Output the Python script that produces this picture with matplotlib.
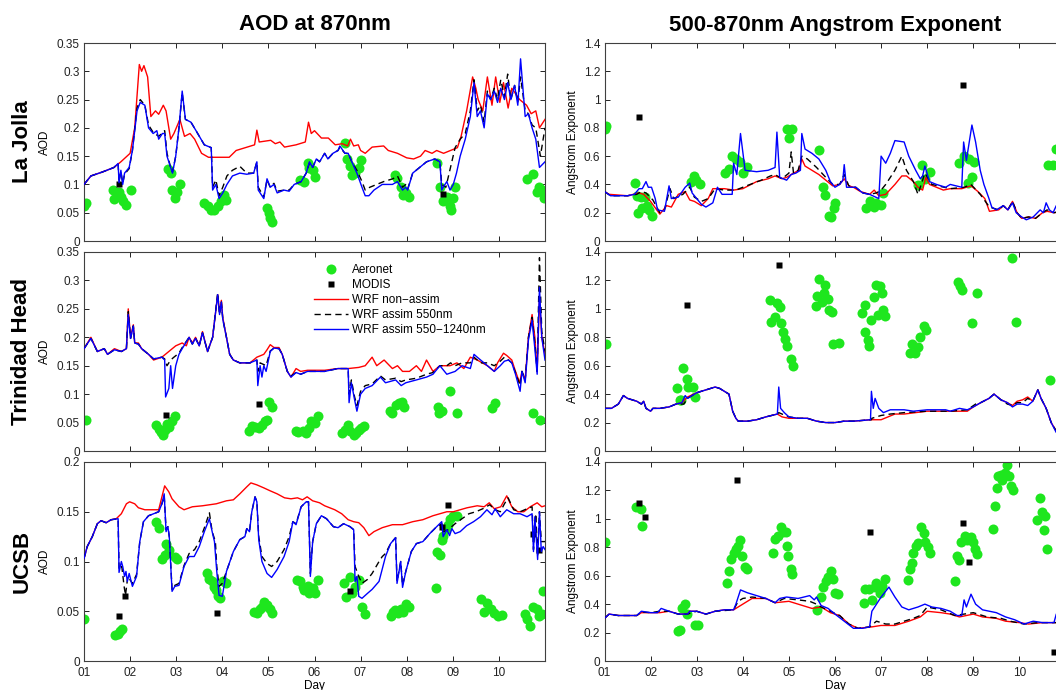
import numpy as np
import matplotlib.pyplot as plt
from matplotlib.lines import Line2D

plt.rcParams['font.family'] = ['Liberation Sans', 'DejaVu Sans']

# ---- data (day of month, value) ----
SITES = ['La Jolla', 'Trinidad Head', 'UCSB']
DAY_TICKS = list(range(1, 11))
DAY_LABELS = ['%02d' % d for d in DAY_TICKS]

# La Jolla AOD
LJ_AOD_RED = [(1.0,.100),(1.15,.115),(1.4,.122),(1.65,.130),(1.8,.140),(2.0,.155),(2.1,.200),(2.2,.312),(2.25,.300),(2.3,.310),(2.38,.290),(2.45,.220),(2.55,.230),(2.62,.224),(2.72,.240),(2.78,.230),(2.88,.180),(2.95,.190),(3.08,.215),(3.18,.185),(3.3,.190),(3.4,.180),(3.55,.155),(3.7,.148),(4.15,.148),(4.3,.160),(4.5,.165),(4.7,.170),(4.75,.196),(4.8,.175),(5.05,.178),(5.15,.172),(5.25,.175),(5.35,.166),(5.6,.170),(5.8,.175),(5.87,.210),(5.93,.190),(6.0,.195),(6.15,.182),(6.3,.182),(6.45,.170),(6.6,.172),(6.72,.168),(6.78,.180),(6.85,.168),(6.95,.170),(7.0,.160),(7.1,.155),(7.25,.166),(7.5,.168),(7.6,.160),(7.8,.155),(8.0,.147),(8.15,.145),(8.3,.150),(8.4,.160),(8.55,.155),(8.65,.160),(8.8,.155),(8.95,.160),(9.1,.165),(9.18,.185),(9.3,.230),(9.43,.290),(9.5,.270),(9.55,.250),(9.65,.230),(9.75,.290),(9.85,.240),(9.93,.290),(10.02,.245),(10.1,.280),(10.2,.235),(10.28,.270),(10.45,.250),(10.6,.240),(10.7,.225),(10.8,.230),(10.88,.200),(11.0,.215)]
LJ_AOD_BLUE = [(1.0,.100),(1.15,.115),(1.4,.122),(1.65,.130),(1.74,.137),(1.76,.103),(1.8,.125),(1.84,.100),(1.88,.120),(1.98,.130),(2.05,.160),(2.15,.230),(2.22,.245),(2.32,.240),(2.4,.200),(2.5,.190),(2.58,.195),(2.62,.180),(2.7,.190),(2.75,.190),(2.8,.150),(2.88,.130),(2.92,.120),(2.99,.150),(3.06,.200),(3.13,.265),(3.2,.215),(3.32,.210),(3.43,.195),(3.61,.170),(3.76,.165),(3.79,.090),(3.86,.100),(3.93,.075),(4.01,.085),(4.1,.100),(4.22,.115),(4.38,.120),(4.53,.118),(4.68,.120),(4.75,.140),(4.78,.090),(4.9,.075),(4.97,.110),(5.04,.095),(5.12,.100),(5.19,.085),(5.34,.090),(5.45,.088),(5.56,.100),(5.71,.105),(5.82,.120),(5.89,.140),(5.96,.130),(6.04,.145),(6.11,.140),(6.22,.155),(6.29,.145),(6.4,.155),(6.51,.160),(6.55,.168),(6.66,.155),(6.73,.155),(6.81,.140),(6.92,.120),(7.03,.095),(7.1,.080),(7.18,.080),(7.29,.090),(7.47,.100),(7.69,.100),(7.8,.105),(7.91,.090),(7.98,.095),(8.02,.090),(8.13,.120),(8.28,.130),(8.43,.140),(8.61,.145),(8.72,.140),(8.76,.090),(8.79,.095),(8.87,.105),(8.94,.090),(9.01,.100),(9.08,.120),(9.16,.150),(9.27,.180),(9.38,.220),(9.46,.280),(9.53,.220),(9.6,.230),(9.68,.200),(9.75,.260),(9.82,.250),(9.9,.265),(9.97,.245),(10.04,.270),(10.12,.250),(10.19,.280),(10.26,.250),(10.34,.275),(10.41,.240),(10.47,.322),(10.57,.220),(10.64,.225),(10.72,.200),(10.8,.180),(10.88,.130),(11.0,.140)]
LJ_AOD_DASH = [(1.0,.100),(1.15,.115),(1.4,.122),(1.65,.130),(1.74,.137),(1.76,.105),(1.8,.123),(1.84,.102),(1.88,.118),(1.98,.128),(2.05,.160),(2.15,.235),(2.22,.250),(2.32,.240),(2.4,.205),(2.5,.192),(2.62,.185),(2.75,.195),(2.8,.155),(2.88,.130),(2.92,.122),(2.99,.150),(3.06,.200),(3.13,.262),(3.2,.215),(3.32,.210),(3.43,.195),(3.61,.170),(3.76,.165),(3.79,.095),(3.86,.108),(3.93,.080),(4.01,.095),(4.1,.115),(4.22,.125),(4.38,.132),(4.53,.120),(4.68,.120),(4.75,.140),(4.78,.095),(4.9,.078),(4.97,.108),(5.04,.095),(5.12,.102),(5.19,.088),(5.34,.090),(5.45,.090),(5.56,.100),(5.71,.105),(5.82,.120),(5.89,.138),(5.96,.130),(6.04,.145),(6.11,.140),(6.22,.155),(6.29,.145),(6.4,.155),(6.51,.160),(6.55,.166),(6.66,.155),(6.73,.155),(6.81,.140),(6.92,.125),(7.03,.105),(7.1,.090),(7.2,.095),(7.35,.100),(7.5,.105),(7.7,.110),(7.8,.115),(7.91,.095),(7.98,.100),(8.02,.092),(8.13,.120),(8.28,.130),(8.43,.140),(8.61,.145),(8.72,.140),(8.76,.100),(8.85,.095),(8.95,.130),(9.05,.165),(9.16,.180),(9.27,.190),(9.38,.230),(9.46,.285),(9.53,.230),(9.6,.240),(9.68,.210),(9.75,.265),(9.82,.250),(9.9,.270),(9.97,.250),(10.04,.285),(10.12,.255),(10.19,.295),(10.26,.250),(10.34,.275),(10.41,.245),(10.47,.290),(10.57,.230),(10.64,.225),(10.72,.205),(10.8,.200),(10.9,.150),(11.0,.200)]
LJ_AOD_AERONET = [(1.0,.061),(1.04,.067),(1.63,.091),(1.66,.074),(1.77,.086),(1.81,.078),(1.85,.070),(1.92,.064),(2.01,.090),(2.82,.127),(2.88,.120),(2.91,.090),(2.97,.076),(3.02,.087),(3.08,.100),(3.61,.067),(3.68,.061),(3.76,.055),(3.83,.054),(3.9,.061),(3.98,.070),(4.03,.081),(4.07,.073),(4.96,.058),(5.01,.049),(5.04,.040),(5.08,.034),(5.68,.108),(5.78,.105),(5.85,.137),(5.89,.129),(5.96,.126),(6.0,.114),(6.66,.174),(6.7,.145),(6.76,.132),(6.81,.117),(6.87,.120),(6.96,.129),(7.01,.143),(7.75,.117),(7.8,.111),(7.87,.096),(7.91,.081),(7.98,.084),(8.04,.077),(8.65,.137),(8.72,.096),(8.79,.070),(8.87,.078),(8.94,.061),(8.96,.055),(9.01,.076),(9.04,.096),(10.62,.110),(10.75,.119),(10.83,.087),(10.88,.096),(10.93,.090),(10.97,.076)]
LJ_AOD_MODIS = [(1.75,.100),(8.78,.083)]

# La Jolla Angstrom exponent
LJ_ANG_RED = [(1.0,.35),(1.1,.33),(1.5,.32),(1.75,.34),(1.85,.33),(2.0,.28),(2.2,.19),(2.35,.25),(2.45,.24),(2.6,.33),(2.75,.35),(2.85,.29),(2.95,.28),(3.1,.25),(3.25,.30),(3.35,.37),(3.6,.37),(3.8,.36),(4.0,.37),(4.3,.42),(4.55,.44),(4.7,.46),(4.85,.44),(4.95,.45),(5.1,.48),(5.22,.50),(5.28,.58),(5.35,.53),(5.5,.50),(5.65,.47),(5.8,.43),(5.95,.39),(6.1,.40),(6.2,.44),(6.3,.39),(6.4,.38),(6.55,.35),(6.75,.33),(6.85,.36),(6.95,.32),(7.1,.33),(7.3,.40),(7.45,.46),(7.55,.46),(7.7,.42),(7.8,.38),(7.9,.36),(7.97,.45),(8.05,.40),(8.2,.38),(8.35,.36),(8.5,.37),(8.75,.37),(8.95,.39),(9.1,.35),(9.25,.30),(9.35,.21),(9.55,.22),(9.65,.25),(9.75,.22),(9.85,.28),(9.95,.20),(10.05,.16),(10.2,.17),(10.35,.16),(10.5,.20),(10.6,.21),(10.75,.20),(11.0,.21)]
LJ_ANG_BLUE = [(1.0,.35),(1.13,.32),(1.5,.32),(1.65,.33),(1.75,.37),(1.82,.37),(1.9,.42),(1.95,.38),(2.02,.38),(2.1,.30),(2.15,.22),(2.3,.21),(2.4,.39),(2.45,.30),(2.6,.31),(2.75,.38),(2.85,.41),(2.9,.34),(3.0,.30),(3.1,.26),(3.2,.24),(3.35,.27),(3.45,.38),(3.55,.33),(3.77,.33),(3.8,.55),(3.87,.47),(3.95,.76),(4.05,.50),(4.3,.49),(4.55,.50),(4.7,.52),(4.74,.77),(4.8,.45),(4.95,.43),(5.05,.47),(5.15,.48),(5.25,.50),(5.28,.76),(5.35,.65),(5.5,.62),(5.65,.58),(5.8,.50),(5.9,.42),(6.0,.38),(6.1,.40),(6.17,.43),(6.2,.54),(6.25,.38),(6.45,.38),(6.6,.34),(6.75,.33),(6.95,.30),(7.0,.60),(7.1,.55),(7.2,.62),(7.3,.71),(7.5,.70),(7.6,.60),(7.75,.50),(7.85,.44),(7.9,.46),(7.95,.53),(8.05,.42),(8.2,.40),(8.4,.38),(8.5,.40),(8.75,.38),(8.79,.70),(8.85,.57),(8.97,.82),(9.05,.70),(9.15,.50),(9.23,.40),(9.34,.30),(9.4,.24),(9.5,.22),(9.65,.25),(9.75,.22),(9.85,.27),(9.93,.20),(10.05,.17),(10.15,.15),(10.3,.17),(10.45,.22),(10.52,.20),(10.58,.27),(10.65,.22),(10.73,.20),(10.8,.25),(11.0,.27)]
LJ_ANG_DASH = [(1.0,.35),(1.13,.32),(1.5,.32),(1.7,.33),(1.8,.35),(1.9,.34),(2.05,.29),(2.2,.20),(2.3,.22),(2.42,.37),(2.5,.30),(2.7,.33),(2.85,.38),(2.95,.31),(3.1,.28),(3.25,.30),(3.4,.37),(3.6,.36),(3.85,.36),(4.0,.38),(4.4,.43),(4.6,.46),(4.7,.47),(4.85,.44),(5.0,.48),(5.05,.63),(5.1,.48),(5.2,.50),(5.28,.60),(5.4,.58),(5.6,.52),(5.8,.45),(5.95,.40),(6.1,.40),(6.2,.47),(6.3,.39),(6.45,.38),(6.6,.34),(6.75,.33),(6.9,.34),(7.0,.36),(7.1,.40),(7.3,.50),(7.45,.60),(7.55,.50),(7.7,.42),(7.8,.33),(7.95,.48),(8.1,.40),(8.5,.37),(8.8,.38),(8.95,.40),(9.15,.33),(9.35,.24),(9.55,.22),(9.65,.25),(9.75,.22),(9.85,.28),(9.95,.20),(10.05,.16),(10.2,.17),(10.35,.16),(10.5,.20),(10.6,.22),(10.75,.20),(11.0,.22)]
LJ_ANG_AERONET = [(1.0,.795),(1.04,.81),(1.66,.41),(1.7,.32),(1.79,.31),(1.88,.31),(1.73,.195),(1.82,.23),(1.93,.25),(1.97,.22),(2.03,.18),(2.88,.42),(2.94,.46),(2.99,.43),(3.07,.40),(3.61,.48),(3.69,.51),(3.76,.60),(3.85,.58),(3.94,.56),(4.01,.48),(4.09,.525),(4.96,.795),(5.07,.79),(5.01,.73),(5.66,.64),(5.74,.38),(5.79,.325),(5.88,.18),(5.91,.17),(5.97,.23),(6.01,.27),(6.68,.235),(6.77,.28),(6.84,.24),(6.9,.27),(6.99,.254),(7.05,.34),(7.81,.395),(7.88,.54),(7.96,.44),(8.07,.49),(8.69,.55),(8.8,.60),(8.9,.58),(9.01,.56),(8.88,.41),(8.97,.45),(10.62,.54),(10.73,.54),(10.8,.65)]
LJ_ANG_MODIS = [(1.75,.88),(8.78,1.10)]

# Trinidad Head AOD
TH_AOD_RED = [(1.0,.180),(1.15,.200),(1.29,.175),(1.44,.180),(1.51,.170),(1.66,.180),(1.81,.175),(1.92,.180),(1.96,.250),(2.01,.200),(2.07,.222),(2.1,.190),(2.18,.190),(2.25,.180),(2.4,.170),(2.51,.160),(2.69,.165),(2.84,.175),(2.99,.185),(3.13,.190),(3.22,.185),(3.28,.200),(3.35,.190),(3.42,.200),(3.5,.185),(3.57,.210),(3.68,.175),(3.79,.200),(3.9,.275),(3.94,.245),(3.98,.265),(4.01,.235),(4.09,.200),(4.16,.170),(4.24,.160),(4.38,.155),(4.6,.155),(4.75,.165),(4.9,.170),(4.97,.178),(5.04,.187),(5.12,.182),(5.23,.182),(5.3,.170),(5.41,.140),(5.49,.130),(5.6,.145),(5.7,.140),(5.85,.142),(6.22,.142),(6.51,.145),(6.73,.145),(6.96,.147),(7.1,.150),(7.25,.165),(7.35,.150),(7.51,.160),(7.69,.145),(7.8,.150),(7.91,.140),(8.06,.140),(8.21,.150),(8.32,.140),(8.43,.160),(8.57,.140),(8.72,.150),(8.94,.150),(9.09,.155),(9.24,.145),(9.38,.165),(9.53,.160),(9.75,.150),(9.9,.140),(9.97,.155),(10.1,.172),(10.17,.168),(10.28,.160),(10.36,.140),(10.45,.120),(10.5,.140),(10.57,.125),(10.64,.200),(10.72,.240),(10.78,.200),(10.83,.140),(10.88,.270),(10.93,.200),(11.0,.170)]
TH_AOD_BLUE = [(1.0,.180),(1.15,.198),(1.29,.175),(1.44,.180),(1.51,.170),(1.66,.178),(1.81,.175),(1.92,.180),(1.96,.240),(2.01,.198),(2.07,.220),(2.1,.190),(2.18,.188),(2.25,.180),(2.4,.170),(2.51,.162),(2.69,.165),(2.75,.160),(2.77,.095),(2.84,.110),(2.88,.150),(2.92,.110),(2.99,.150),(3.06,.170),(3.13,.180),(3.28,.200),(3.35,.188),(3.42,.198),(3.5,.185),(3.57,.208),(3.68,.175),(3.79,.200),(3.9,.275),(3.94,.240),(3.98,.262),(4.01,.232),(4.09,.200),(4.16,.170),(4.24,.160),(4.38,.155),(4.6,.155),(4.75,.160),(4.77,.115),(4.82,.150),(4.86,.130),(4.9,.150),(4.95,.140),(5.04,.175),(5.12,.181),(5.23,.180),(5.3,.170),(5.41,.140),(5.49,.130),(5.6,.138),(5.7,.135),(5.85,.140),(6.22,.140),(6.51,.145),(6.73,.145),(6.75,.085),(6.8,.120),(6.87,.090),(6.92,.070),(7.0,.100),(7.1,.110),(7.25,.115),(7.43,.130),(7.54,.120),(7.76,.125),(7.88,.115),(7.98,.120),(8.21,.125),(8.43,.130),(8.57,.135),(8.72,.150),(8.87,.135),(9.05,.140),(9.2,.150),(9.38,.145),(9.46,.170),(9.53,.165),(9.75,.150),(9.9,.140),(10.03,.150),(10.12,.158),(10.21,.160),(10.28,.155),(10.36,.135),(10.46,.105),(10.5,.140),(10.57,.120),(10.64,.195),(10.72,.230),(10.78,.180),(10.83,.135),(10.88,.288),(10.93,.200),(11.0,.160)]
TH_AOD_DASH = [(1.0,.180),(1.15,.198),(1.29,.175),(1.44,.180),(1.51,.170),(1.66,.178),(1.81,.175),(1.92,.180),(1.96,.245),(2.01,.198),(2.07,.220),(2.1,.190),(2.18,.188),(2.25,.180),(2.4,.170),(2.51,.162),(2.69,.165),(2.75,.162),(2.8,.150),(2.88,.160),(2.95,.165),(3.06,.172),(3.13,.182),(3.28,.200),(3.35,.188),(3.42,.198),(3.5,.185),(3.57,.208),(3.68,.175),(3.79,.200),(3.9,.278),(3.94,.240),(3.98,.262),(4.01,.232),(4.09,.200),(4.16,.170),(4.24,.160),(4.38,.155),(4.6,.155),(4.75,.160),(4.77,.140),(4.82,.155),(4.9,.152),(4.95,.150),(5.04,.176),(5.12,.181),(5.23,.180),(5.3,.170),(5.41,.140),(5.49,.132),(5.6,.138),(5.7,.135),(5.85,.140),(6.22,.140),(6.51,.145),(6.73,.145),(6.75,.100),(6.8,.125),(6.87,.095),(6.92,.080),(7.0,.105),(7.1,.115),(7.25,.118),(7.43,.132),(7.54,.125),(7.76,.128),(7.88,.122),(7.98,.125),(8.21,.128),(8.43,.135),(8.57,.138),(8.72,.150),(8.87,.150),(8.95,.155),(9.05,.150),(9.2,.155),(9.38,.155),(9.46,.165),(9.6,.155),(9.75,.155),(9.9,.150),(10.03,.158),(10.12,.165),(10.21,.160),(10.28,.155),(10.36,.138),(10.46,.115),(10.5,.140),(10.57,.125),(10.64,.200),(10.72,.235),(10.78,.190),(10.83,.140),(10.88,.340),(10.93,.210),(11.0,.175)]
TH_AOD_AERONET = [(1.04,.054),(2.57,.045),(2.62,.038),(2.68,.034),(2.71,.028),(2.76,.037),(2.8,.048),(2.84,.043),(2.91,.052),(2.97,.061),(4.58,.036),(4.64,.044),(4.71,.043),(4.79,.040),(4.86,.046),(4.93,.052),(4.97,.055),(5.02,.087),(5.08,.078),(5.6,.036),(5.65,.034),(5.74,.036),(5.82,.032),(5.87,.040),(5.93,.052),(6.0,.049),(6.07,.062),(6.59,.032),(6.66,.037),(6.72,.046),(6.77,.035),(6.85,.028),(6.9,.031),(6.96,.037),(7.01,.040),(7.07,.044),(7.64,.071),(7.69,.067),(7.76,.081),(7.84,.084),(7.9,.086),(7.95,.077),(8.68,.078),(8.71,.067),(8.76,.070),(8.94,.105),(9.09,.067),(9.85,.076),(9.91,.084),(10.74,.067),(10.9,.054)]
TH_AOD_MODIS = [(2.78,.064),(4.79,.083)]

# Trinidad Head Angstrom exponent
TH_ANG_RED = [(1.0,.30),(1.15,.30),(1.3,.33),(1.41,.39),(1.5,.37),(1.7,.35),(1.8,.33),(1.85,.35),(1.9,.30),(2.0,.28),(2.05,.30),(2.2,.30),(2.4,.31),(2.55,.33),(2.68,.34),(2.8,.38),(3.0,.41),(3.2,.43),(3.4,.45),(3.5,.44),(3.6,.42),(3.7,.40),(3.78,.28),(3.85,.23),(3.9,.21),(4.1,.21),(4.3,.22),(4.5,.24),(4.75,.26),(4.85,.24),(5.0,.23),(5.2,.23),(5.4,.23),(5.6,.21),(5.8,.20),(6.0,.20),(6.2,.21),(6.4,.21),(6.79,.22),(7.0,.22),(7.3,.26),(7.5,.26),(8.0,.28),(8.5,.28),(8.87,.28),(9.0,.31),(9.16,.34),(9.34,.37),(9.45,.40),(9.6,.36),(9.74,.34),(9.85,.32),(9.95,.35),(10.07,.36),(10.18,.38),(10.29,.35),(10.4,.43),(10.47,.37),(10.58,.30),(10.69,.20),(10.8,.14),(11.0,.14)]
TH_ANG_BLUE = [(1.0,.30),(1.15,.30),(1.3,.33),(1.41,.39),(1.5,.37),(1.7,.35),(1.8,.33),(1.85,.35),(1.9,.30),(2.0,.28),(2.05,.30),(2.2,.30),(2.4,.31),(2.55,.33),(2.68,.34),(2.75,.39),(2.8,.37),(3.0,.41),(3.2,.43),(3.4,.45),(3.5,.44),(3.6,.42),(3.7,.40),(3.78,.28),(3.85,.23),(3.9,.21),(4.1,.21),(4.3,.22),(4.5,.24),(4.75,.26),(4.78,.45),(4.82,.30),(4.9,.27),(5.0,.24),(5.2,.23),(5.4,.23),(5.6,.21),(5.8,.20),(6.0,.20),(6.2,.21),(6.4,.21),(6.77,.22),(6.79,.42),(6.83,.30),(6.87,.37),(6.95,.30),(7.05,.27),(7.2,.29),(7.5,.29),(7.7,.28),(8.0,.29),(8.4,.29),(8.5,.28),(8.7,.30),(8.87,.29),(9.0,.31),(9.16,.34),(9.34,.37),(9.45,.40),(9.6,.36),(9.74,.34),(9.85,.31),(9.95,.33),(10.07,.33),(10.18,.32),(10.29,.35),(10.4,.43),(10.47,.37),(10.58,.30),(10.69,.20),(10.8,.13),(11.0,.13)]
TH_ANG_DASH = [(1.0,.30),(1.15,.30),(1.3,.33),(1.41,.39),(1.5,.37),(1.7,.35),(1.8,.33),(1.85,.35),(1.9,.30),(2.0,.28),(2.05,.30),(2.2,.30),(2.4,.31),(2.55,.33),(2.72,.33),(2.8,.37),(3.0,.41),(3.2,.43),(3.4,.45),(3.5,.44),(3.6,.42),(3.7,.40),(3.78,.28),(3.85,.23),(3.9,.21),(4.1,.21),(4.3,.22),(4.5,.24),(4.75,.26),(4.78,.27),(4.85,.26),(5.0,.24),(5.2,.23),(5.4,.23),(5.6,.21),(5.8,.20),(6.0,.20),(6.2,.21),(6.4,.21),(6.79,.22),(6.8,.23),(7.0,.25),(7.2,.26),(7.5,.27),(8.0,.28),(8.5,.28),(8.87,.29),(9.05,.33),(9.16,.34),(9.34,.37),(9.45,.40),(9.6,.36),(9.74,.33),(9.85,.32),(9.95,.34),(10.07,.34),(10.18,.37),(10.29,.35),(10.4,.43),(10.47,.37),(10.58,.30),(10.69,.20),(10.8,.14),(11.0,.14)]
TH_ANG_AERONET = [(1.04,.75),(2.57,.44),(2.63,.36),(2.66,.36),(2.7,.585),(2.79,.505),(2.82,.45),(2.92,.45),(2.96,.38),(4.58,1.06),(4.62,.91),(4.69,.94),(4.74,1.04),(4.8,1.01),(4.83,.90),(4.87,.84),(4.91,.79),(4.96,.74),(5.04,.65),(5.09,.60),(5.58,1.02),(5.66,1.21),(5.62,1.09),(5.71,1.05),(5.77,1.11),(5.79,1.17),(5.84,1.07),(5.88,.99),(5.93,.98),(5.96,.75),(6.08,.76),(6.59,.97),(6.64,1.03),(6.66,.84),(6.72,.78),(6.74,.74),(6.79,.92),(6.84,1.08),(6.88,1.17),(6.93,.96),(6.97,1.16),(7.01,1.11),(7.04,.99),(7.08,.95),(7.63,.69),(7.67,.75),(7.74,.69),(7.81,.73),(7.85,.80),(7.92,.88),(7.98,.85),(8.67,1.19),(8.71,1.16),(8.76,1.13),(8.98,.90),(9.09,1.11),(9.84,1.36),(9.93,.91),(10.66,.50)]
TH_ANG_MODIS = [(2.79,1.03),(4.78,1.31)]

# UCSB AOD
UC_AOD_RED = [(1.0,.103),(1.07,.115),(1.18,.125),(1.29,.138),(1.37,.141),(1.48,.139),(1.59,.142),(1.7,.143),(1.81,.148),(1.92,.158),(1.99,.160),(2.1,.158),(2.18,.154),(2.32,.152),(2.62,.152),(2.69,.165),(2.75,.176),(2.84,.170),(2.91,.163),(3.06,.155),(3.17,.152),(3.35,.155),(3.57,.156),(3.87,.158),(4.09,.161),(4.24,.162),(4.38,.168),(4.53,.175),(4.62,.179),(4.75,.177),(4.9,.174),(5.04,.171),(5.19,.168),(5.35,.164),(5.49,.163),(5.63,.164),(5.74,.162),(5.84,.165),(5.96,.161),(6.11,.159),(6.22,.156),(6.44,.152),(6.59,.148),(6.73,.142),(6.85,.140),(6.96,.139),(7.07,.134),(7.18,.126),(7.29,.130),(7.47,.134),(7.69,.137),(7.91,.137),(8.13,.140),(8.35,.142),(8.57,.146),(8.72,.148),(8.87,.150),(9.01,.150),(9.16,.152),(9.31,.154),(9.53,.156),(9.68,.155),(9.79,.159),(9.9,.153),(10.04,.155),(10.17,.166),(10.28,.155),(10.41,.150),(10.54,.150),(10.68,.155),(10.83,.159),(10.93,.155),(11.0,.156)]
UC_AOD_BLUE = [(1.0,.103),(1.07,.115),(1.18,.125),(1.29,.138),(1.37,.141),(1.48,.139),(1.59,.142),(1.74,.143),(1.76,.089),(1.81,.100),(1.84,.095),(1.88,.085),(1.91,.090),(1.94,.080),(1.98,.088),(2.05,.075),(2.14,.085),(2.21,.120),(2.29,.140),(2.4,.146),(2.51,.148),(2.62,.150),(2.69,.158),(2.74,.168),(2.78,.130),(2.82,.135),(2.85,.125),(2.91,.070),(2.97,.075),(3.06,.076),(3.17,.095),(3.28,.105),(3.39,.105),(3.5,.115),(3.61,.130),(3.72,.143),(3.78,.130),(3.83,.120),(3.88,.090),(3.93,.066),(4.0,.065),(4.09,.090),(4.24,.110),(4.38,.122),(4.49,.125),(4.53,.133),(4.59,.130),(4.64,.150),(4.71,.165),(4.75,.160),(4.79,.122),(4.86,.100),(4.97,.088),(5.07,.084),(5.19,.092),(5.34,.105),(5.45,.120),(5.53,.140),(5.6,.137),(5.71,.155),(5.82,.160),(5.87,.160),(5.91,.085),(5.96,.120),(6.04,.138),(6.15,.146),(6.26,.143),(6.41,.135),(6.51,.134),(6.63,.138),(6.77,.135),(6.85,.132),(6.88,.080),(6.92,.085),(6.96,.065),(7.03,.063),(7.15,.068),(7.25,.072),(7.4,.080),(7.54,.105),(7.65,.118),(7.76,.124),(7.79,.078),(7.87,.100),(7.91,.074),(7.98,.090),(8.1,.110),(8.21,.118),(8.35,.120),(8.5,.128),(8.65,.135),(8.76,.140),(8.79,.125),(8.87,.132),(8.93,.126),(8.98,.133),(9.05,.128),(9.16,.130),(9.3,.136),(9.45,.140),(9.6,.145),(9.74,.152),(9.85,.147),(9.92,.153),(10.03,.145),(10.17,.152),(10.32,.148),(10.46,.148),(10.61,.145),(10.72,.148),(10.75,.110),(10.78,.145),(10.84,.102),(10.88,.150),(10.92,.110),(10.96,.115),(11.0,.112)]
UC_AOD_DASH = [(1.0,.103),(1.07,.115),(1.18,.125),(1.29,.138),(1.37,.141),(1.48,.139),(1.59,.142),(1.74,.143),(1.76,.092),(1.82,.095),(1.87,.075),(1.9,.066),(1.95,.085),(2.05,.078),(2.14,.087),(2.21,.120),(2.29,.140),(2.4,.146),(2.51,.148),(2.62,.150),(2.69,.158),(2.74,.166),(2.78,.132),(2.82,.135),(2.85,.125),(2.91,.072),(2.97,.076),(3.06,.078),(3.17,.096),(3.28,.108),(3.4,.112),(3.5,.120),(3.62,.135),(3.72,.149),(3.78,.130),(3.85,.120),(3.88,.095),(3.93,.075),(4.0,.078),(4.09,.090),(4.24,.110),(4.38,.122),(4.49,.125),(4.53,.133),(4.59,.130),(4.64,.150),(4.71,.165),(4.75,.160),(4.79,.125),(4.86,.105),(4.97,.098),(5.07,.095),(5.19,.100),(5.34,.112),(5.45,.125),(5.53,.140),(5.6,.138),(5.71,.155),(5.82,.160),(5.87,.160),(5.91,.088),(5.96,.120),(6.04,.138),(6.15,.146),(6.26,.143),(6.41,.135),(6.51,.134),(6.63,.138),(6.77,.135),(6.85,.132),(6.88,.095),(6.96,.085),(7.03,.078),(7.15,.082),(7.25,.088),(7.4,.100),(7.47,.105),(7.54,.108),(7.65,.118),(7.76,.124),(7.79,.080),(7.87,.100),(7.91,.076),(7.98,.090),(8.1,.110),(8.21,.118),(8.35,.120),(8.5,.128),(8.65,.135),(8.76,.138),(8.8,.130),(8.9,.132),(9.05,.138),(9.2,.143),(9.35,.148),(9.5,.150),(9.65,.153),(9.8,.157),(9.92,.152),(10.03,.150),(10.12,.158),(10.2,.164),(10.32,.152),(10.46,.150),(10.61,.153),(10.72,.155),(10.75,.112),(10.8,.148),(10.84,.105),(10.88,.150),(10.92,.120),(11.0,.120)]
UC_AOD_AERONET = [(1.0,.042),(1.68,.026),(1.74,.027),(1.79,.030),(1.82,.032),(2.56,.140),(2.62,.134),(2.69,.103),(2.75,.107),(2.78,.118),(2.84,.112),(2.97,.105),(3.02,.103),(3.66,.088),(3.71,.082),(3.78,.080),(3.83,.074),(3.87,.071),(3.9,.065),(3.96,.063),(4.01,.080),(4.07,.078),(4.68,.049),(4.75,.048),(4.81,.052),(4.86,.054),(4.91,.059),(4.97,.056),(5.03,.052),(5.08,.048),(5.63,.081),(5.69,.080),(5.74,.074),(5.78,.071),(5.85,.075),(5.89,.068),(5.96,.073),(6.01,.068),(6.07,.081),(6.63,.078),(6.68,.064),(6.77,.084),(6.81,.068),(6.88,.074),(6.96,.081),(7.04,.054),(7.09,.047),(7.66,.045),(7.71,.049),(7.75,.051),(7.81,.048),(7.87,.052),(7.91,.049),(7.99,.057),(8.06,.054),(8.63,.073),(8.66,.110),(8.72,.107),(8.76,.122),(8.79,.126),(8.85,.133),(8.9,.137),(8.95,.143),(9.01,.146),(9.09,.146),(9.62,.062),(9.68,.049),(9.75,.058),(9.82,.052),(9.9,.048),(9.97,.045),(10.07,.046),(10.57,.047),(10.62,.042),(10.67,.035),(10.74,.054),(10.83,.052),(10.88,.045),(10.93,.047),(10.96,.070)]
UC_AOD_MODIS = [(1.75,.045),(1.88,.065),(3.88,.048),(6.77,.070),(8.76,.135),(8.9,.157),(10.74,.128),(10.88,.112)]

# UCSB Angstrom exponent
UC_ANG_RED = [(1.0,.30),(1.1,.33),(1.3,.32),(1.5,.32),(1.7,.32),(1.8,.34),(2.0,.34),(2.2,.34),(2.4,.35),(2.6,.33),(2.8,.33),(2.85,.35),(3.0,.35),(3.2,.33),(3.4,.35),(3.6,.36),(3.8,.36),(4.0,.40),(4.2,.44),(4.5,.44),(4.7,.41),(5.0,.42),(5.3,.39),(5.5,.37),(5.7,.38),(5.9,.34),(6.1,.32),(6.3,.26),(6.5,.23),(6.8,.24),(7.0,.25),(7.3,.25),(7.6,.28),(7.85,.31),(8.0,.35),(8.3,.34),(8.5,.33),(8.7,.31),(9.0,.33),(9.2,.31),(9.5,.30),(9.7,.28),(10.0,.27),(10.2,.26),(10.5,.27),(10.8,.27),(11.0,.27)]
UC_ANG_BLUE = [(1.0,.30),(1.1,.33),(1.3,.32),(1.5,.32),(1.7,.32),(1.8,.35),(2.0,.34),(2.15,.34),(2.23,.37),(2.4,.35),(2.6,.33),(2.8,.33),(2.85,.35),(3.0,.35),(3.2,.33),(3.4,.35),(3.6,.36),(3.8,.36),(3.85,.40),(3.95,.50),(4.1,.48),(4.3,.46),(4.5,.44),(4.7,.41),(4.8,.44),(4.95,.45),(5.2,.44),(5.45,.46),(5.55,.43),(5.6,.45),(5.7,.39),(5.85,.37),(6.0,.33),(6.2,.28),(6.4,.23),(6.6,.23),(6.75,.24),(6.8,.35),(7.0,.45),(7.17,.52),(7.3,.45),(7.45,.38),(7.6,.36),(7.8,.38),(7.95,.40),(8.1,.38),(8.3,.37),(8.5,.35),(8.65,.32),(8.75,.32),(8.8,.43),(8.85,.38),(8.95,.47),(9.05,.40),(9.2,.36),(9.5,.34),(9.7,.31),(9.9,.29),(10.1,.26),(10.3,.28),(10.5,.27),(10.75,.27),(10.8,.33),(11.0,.33)]
UC_ANG_DASH = [(1.0,.30),(1.1,.33),(1.3,.32),(1.5,.32),(1.7,.32),(1.8,.345),(2.0,.34),(2.2,.35),(2.4,.35),(2.6,.33),(2.8,.33),(3.0,.35),(3.2,.33),(3.4,.35),(3.6,.355),(3.8,.36),(3.9,.42),(4.0,.44),(4.2,.45),(4.5,.44),(4.7,.41),(4.9,.44),(5.2,.43),(5.45,.42),(5.6,.40),(5.7,.38),(5.9,.35),(6.1,.32),(6.3,.26),(6.5,.23),(6.75,.24),(6.9,.28),(7.1,.26),(7.3,.26),(7.5,.28),(7.7,.30),(7.85,.32),(8.0,.38),(8.3,.36),(8.6,.32),(8.8,.33),(9.0,.34),(9.3,.31),(9.6,.30),(9.8,.28),(10.1,.26),(10.4,.27),(10.8,.27),(11.0,.27)]
UC_ANG_AERONET = [(1.0,.84),(1.68,1.08),(1.79,1.07),(1.82,.95),(2.59,.21),(2.64,.22),(2.68,.37),(2.74,.40),(2.8,.33),(2.96,.25),(3.03,.25),(3.65,.55),(3.7,.63),(3.74,.72),(3.8,.76),(3.85,.79),(3.89,.81),(3.94,.85),(3.99,.74),(4.05,.66),(4.1,.65),(4.65,.76),(4.69,.86),(4.77,.88),(4.82,.94),(4.87,.91),(4.93,.91),(4.96,.81),(4.99,.74),(5.04,.65),(5.07,.61),(5.62,.36),(5.69,.45),(5.74,.52),(5.8,.56),(5.85,.59),(5.91,.63),(5.96,.58),(6.01,.48),(6.06,.47),(6.62,.41),(6.66,.51),(6.74,.51),(6.81,.43),(6.86,.52),(6.9,.55),(6.97,.48),(7.01,.53),(7.08,.58),(7.59,.57),(7.63,.65),(7.67,.69),(7.7,.76),(7.76,.81),(7.81,.83),(7.87,.94),(7.92,.90),(7.96,.84),(8.01,.80),(8.07,.76),(8.61,.56),(8.65,.74),(8.69,.71),(8.74,.84),(8.81,.88),(8.87,.85),(8.94,.87),(9.0,.84),(9.03,.79),(9.07,.75),(9.43,.93),(9.47,1.09),(9.51,1.22),(9.54,1.30),(9.6,1.31),(9.63,1.27),(9.68,1.32),(9.74,1.38),(9.77,1.30),(9.82,1.23),(9.86,1.20),(10.39,.99),(10.45,1.15),(10.48,1.05),(10.53,.92),(10.56,1.02),(10.6,.79)]
UC_ANG_MODIS = [(1.75,1.11),(1.88,1.01),(3.88,1.27),(6.77,.91),(8.77,.97),(8.9,.70),(10.74,.066)]

AOD_TICKS = [0, 0.05, 0.1, 0.15, 0.2, 0.25, 0.3, 0.35]
UC_AOD_TICKS = [0, 0.05, 0.1, 0.15, 0.2]
ANG_TICKS = [0, 0.2, 0.4, 0.6, 0.8, 1.0, 1.2, 1.4]

GREEN = '#1ee61e'
AX_COLOR = '#404040'


def xy(pts):
    a = np.array(pts)
    return a[:, 0], a[:, 1]


def panel(ax, aeronet, modis, red, dash, blue, yticks, ylabel, bottom):
    ax.plot(*xy(aeronet), 'o', color=GREEN, ms=7.2, mec='none', zorder=2)
    ax.plot(*xy(modis), 's', color='k', ms=4.8, mec='none', zorder=3)
    ax.plot(*xy(red), '-', color='r', lw=1.0, zorder=4)
    ax.plot(*xy(dash), '--', color='k', lw=1.0, dashes=(4.5, 3), zorder=5)
    ax.plot(*xy(blue), '-', color='b', lw=1.0, zorder=6)
    ax.set_xlim(1, 11)
    ax.set_ylim(yticks[0], yticks[-1])
    ax.set_yticks(yticks)
    ax.set_yticklabels(['%g' % v for v in yticks])
    ax.set_xticks(DAY_TICKS)
    if bottom:
        ax.set_xticklabels(DAY_LABELS)
        ax.set_xlabel('Day', fontsize=8.5, labelpad=0.5)
    else:
        ax.set_xticklabels([])
    ax.set_ylabel(ylabel, fontsize=8.5)
    ax.tick_params(direction='in', top=True, right=True, length=3.6, width=0.7,
                   labelsize=8.5, colors='#222222', pad=3)
    ax.tick_params(axis='x', pad=4.5)
    for s in ax.spines.values():
        s.set_color(AX_COLOR)
        s.set_linewidth(0.8)


fig = plt.figure(figsize=(10.56, 6.9), dpi=100)
W, H = 1056.0, 690.0
rows_px = [(43, 241), (252, 451), (462, 661)]
left_x, right_x, ax_w = 84, 604.5, 461

aod_sets = [
    (LJ_AOD_AERONET, LJ_AOD_MODIS, LJ_AOD_RED, LJ_AOD_DASH, LJ_AOD_BLUE, AOD_TICKS),
    (TH_AOD_AERONET, TH_AOD_MODIS, TH_AOD_RED, TH_AOD_DASH, TH_AOD_BLUE, AOD_TICKS),
    (UC_AOD_AERONET, UC_AOD_MODIS, UC_AOD_RED, UC_AOD_DASH, UC_AOD_BLUE, UC_AOD_TICKS),
]
ang_sets = [
    (LJ_ANG_AERONET, LJ_ANG_MODIS, LJ_ANG_RED, LJ_ANG_DASH, LJ_ANG_BLUE, ANG_TICKS),
    (TH_ANG_AERONET, TH_ANG_MODIS, TH_ANG_RED, TH_ANG_DASH, TH_ANG_BLUE, ANG_TICKS),
    (UC_ANG_AERONET, UC_ANG_MODIS, UC_ANG_RED, UC_ANG_DASH, UC_ANG_BLUE, ANG_TICKS),
]

aod_axes = []
for i, (top, bot) in enumerate(rows_px):
    rect_b = (H - bot) / H
    rect_h = (bot - top) / H
    ax1 = fig.add_axes([left_x / W, rect_b, ax_w / W, rect_h])
    panel(ax1, *aod_sets[i], ylabel='AOD', bottom=(i == 2))
    ax1.yaxis.set_label_coords((51 - left_x) / ax_w, 0.5)
    ax2 = fig.add_axes([right_x / W, rect_b, ax_w / W, rect_h])
    panel(ax2, *ang_sets[i], ylabel='Angstrom Exponent', bottom=(i == 2))
    ax2.yaxis.set_label_coords((579 - right_x) / ax_w, 0.5)
    fig.text(22 / W, 1 - (top + bot) / 2 / H, SITES[i], rotation=90, fontsize=16,
             fontweight='bold', ha='center', va='center')
    aod_axes.append(ax1)

fig.text((left_x + ax_w / 2) / W, 1 - 25 / H, 'AOD at 870nm', fontsize=16,
         fontweight='bold', ha='center', va='center')
fig.text((right_x + ax_w / 2) / W, 1 - 25 / H, '500-870nm Angstrom Exponent', fontsize=16,
         fontweight='bold', ha='center', va='center')

handles = [
    Line2D([], [], ls='none', marker='o', color=GREEN, ms=7.2, mec='none'),
    Line2D([], [], ls='none', marker='s', color='k', ms=4.8, mec='none'),
    Line2D([], [], color='r', lw=1.0),
    Line2D([], [], color='k', lw=1.0, ls='--', dashes=(4.5, 3)),
    Line2D([], [], color='b', lw=1.0),
]
labels = ['Aeronet', 'MODIS', 'WRF non\u2212assim', 'WRF assim 550nm', 'WRF assim 550\u22121240nm']
aod_axes[1].legend(handles, labels, loc='upper left', bbox_to_anchor=(0.499, 0.94),
                   frameon=False, fontsize=8.5, handlelength=2.9, handletextpad=0.3,
                   labelspacing=0.25, borderpad=0, borderaxespad=0)

fig.savefig('out.png', dpi=100)
